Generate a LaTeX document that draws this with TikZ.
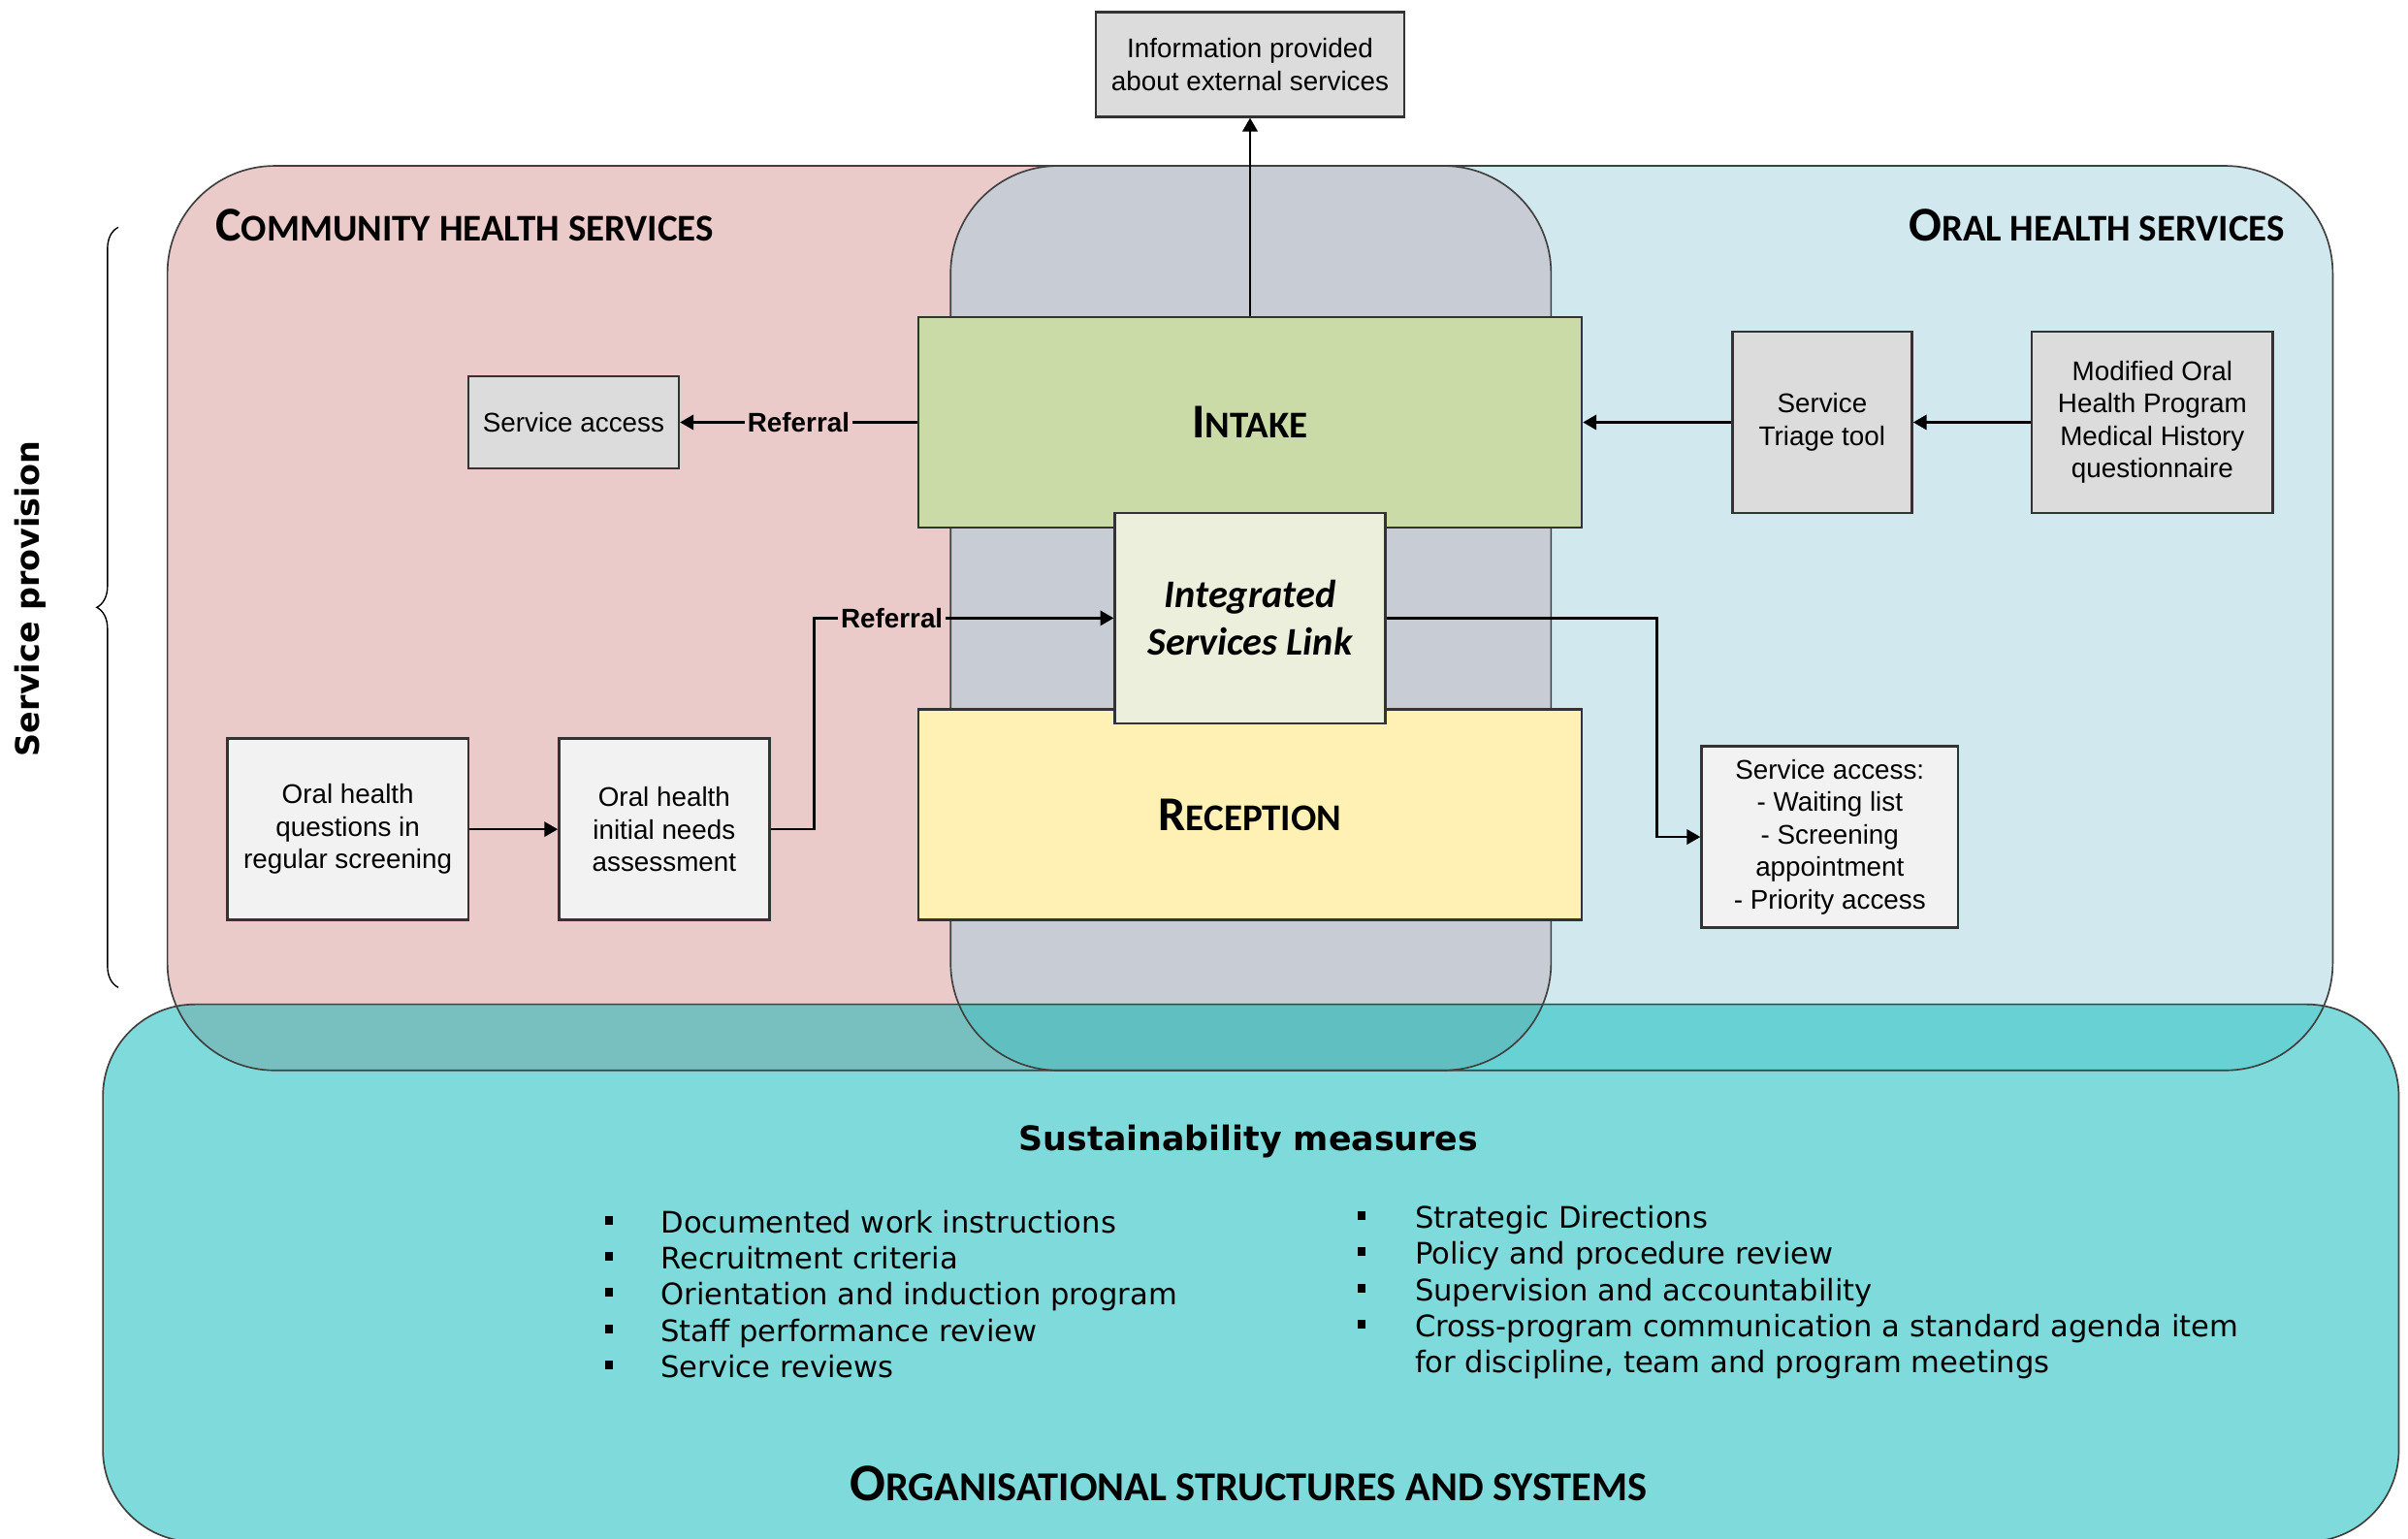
\documentclass[tikz,border=0pt]{standalone}
\usepackage{fontspec}
\setmainfont{Liberation Sans}
\newfontfamily\calfont{Carlito}
\newfontfamily\verfont{DejaVu Sans}
\usetikzlibrary{arrows.meta, positioning, decorations.pathreplacing}

\definecolor{chspink}{HTML}{EBCACA}
\definecolor{ohsblue}{HTML}{D1E9EE}
\definecolor{linkgray}{HTML}{C8CCD4}
\definecolor{orgteal}{HTML}{7FDBDB}
\definecolor{tealpink}{HTML}{78C0BF}
\definecolor{tealblue}{HTML}{68D1D3}
\definecolor{tealgray}{HTML}{60BFC0}
\definecolor{intakegreen}{HTML}{CADBA7}
\definecolor{islgreen}{HTML}{EBEFDC}
\definecolor{recyellow}{HTML}{FFF0B3}
\definecolor{boxgray}{HTML}{DCDCDC}
\definecolor{boxlight}{HTML}{F2F2F2}

\newcommand{\capsc}[3][18]{{\fontsize{#1}{20}\selectfont #2}{\fontsize{\fpeval{#1*14/18}}{20}\selectfont #3}}
\newcommand{\sqbul}{\raisebox{0.28em}{\rule{2.8pt}{3.2pt}}}

\begin{document}
\begin{tikzpicture}[x=0.02cm, y=-0.02cm,
  box/.style={draw=black!80, line width=0.9pt, align=center, inner sep=0pt,
    font=\fontsize{10}{12}\selectfont},
  graybox/.style={box, fill=boxgray},
  lightbox/.style={box, fill=boxlight},
  bigbox/.style={draw=black!80, line width=0.9pt, inner sep=0pt,
    minimum width=8.64cm, minimum height=2.74cm, font=\calfont\bfseries},
  region/.style={draw=black!75, line width=0.6pt, rounded corners=1.4cm},
  arr/.style={line width=0.9pt, -{Triangle[length=5pt,width=5.5pt]}},
  lbl/.style={font=\bfseries\fontsize{10}{12}\selectfont, inner sep=1pt, fill=chspink},
  title/.style={font=\calfont\bfseries, inner sep=0pt},
  measures/.style={font=\verfont\fontsize{11}{13.4}\selectfont, inner sep=0pt, anchor=north west}]
\useasboundingbox (0,0) rectangle (1568,1002);

\fill[chspink, rounded corners=1.4cm] (109,108) rectangle (1010,697);
\fill[ohsblue, rounded corners=1.4cm] (619,108) rectangle (1519,697);
\begin{scope}
\clip[rounded corners=1.4cm] (109,108) rectangle (1010,697);
\fill[linkgray, rounded corners=1.4cm] (619,108) rectangle (1519,697);
\end{scope}
\fill[orgteal, rounded corners=1.2cm] (67,654) rectangle (1562,1004);
\begin{scope}
\clip[rounded corners=1.2cm] (67,654) rectangle (1562,1004);
\fill[tealpink, rounded corners=1.4cm] (109,108) rectangle (1010,697);
\fill[tealblue, rounded corners=1.4cm] (619,108) rectangle (1519,697);
\clip[rounded corners=1.4cm] (109,108) rectangle (1010,697);
\fill[tealgray, rounded corners=1.4cm] (619,108) rectangle (1519,697);
\end{scope}
\draw[region] (109,108) rectangle (1010,697);
\draw[region] (619,108) rectangle (1519,697);
\draw[region, rounded corners=1.2cm] (67,654) rectangle (1562,1004);

\draw[decorate, decoration={brace, amplitude=0.28cm}, line width=0.5pt] (77,643) -- (77,148);
\node[font=\verfont\bfseries\fontsize{12}{14}\selectfont, rotate=90] (provision) at (20,390) {Service provision};

\node[title, anchor=base west] (chs) at (140,157) {\capsc{C}{OMMUNITY HEALTH SERVICES}};
\node[title, anchor=base east] (ohs) at (1488,157) {\capsc{O}{RAL HEALTH SERVICES}};

\node[graybox, minimum width=4.02cm, minimum height=1.36cm] (info) at (814,42) {Information provided\\about external services};
\node[bigbox, fill=intakegreen] (intake) at (814,275) {\capsc{I}{NTAKE}};
\node[bigbox, fill=recyellow] (reception) at (814,530.5) {\capsc{R}{ECEPTION}};
\node[box, fill=islgreen, minimum width=3.52cm, minimum height=2.74cm,
  font=\calfont\bfseries\itshape\fontsize{14.5}{17.6}\selectfont] (isl) at (814,402.5) {Integrated\\Services Link};

\node[graybox, minimum width=2.74cm, minimum height=1.2cm] (svcaccess) at (373.5,275) {Service access};
\node[graybox, minimum width=2.34cm, minimum height=2.36cm] (triage) at (1186.5,275) {Service\\Triage tool};
\node[graybox, minimum width=3.14cm, minimum height=2.36cm] (mohp) at (1401.5,275) {Modified Oral\\Health Program\\Medical History\\questionnaire};
\node[lightbox, minimum width=3.14cm, minimum height=2.36cm] (ohq) at (226.5,540) {Oral health\\questions in\\regular screening};
\node[lightbox, minimum width=2.74cm, minimum height=2.36cm] (ohneeds) at (432.5,540) {Oral health\\initial needs\\assessment};
\node[lightbox, minimum width=3.34cm, minimum height=2.36cm] (svcaccess2) at (1191.5,545) {Service access:\\- Waiting list\\- Screening\\appointment\\- Priority access};

\coordinate (kink) at (530,402.5);
\draw[arr] (intake.west) -- node[lbl] {Referral} (svcaccess.east);
\draw[arr] (mohp.west) -- (triage.east);
\draw[arr] (triage.west) -- (intake.east);
\draw[arr] (intake.north) -- (info.south);
\draw[arr] (ohq.east) -- (ohneeds.west);
\draw[arr] (ohneeds.east) -| (kink) -- node[lbl, pos=0.26] {Referral} (isl.west);
\draw[arr] (isl.east) -- ++(176,0) |- (svcaccess2.west);

\node[font=\verfont\bfseries\fontsize{12.5}{14}\selectfont, inner sep=0pt] (sustain) at (813,743) {Sustainability measures};
\node[measures] (leftlist) at (394,786) {\begin{tabular}{@{}p{0.72cm}@{}l@{}}
\sqbul & Documented work instructions\\
\sqbul & Recruitment criteria\\
\sqbul & Orientation and induction program\\
\sqbul & Staff performance review\\
\sqbul & Service reviews
\end{tabular}};
\node[measures] (rightlist) at (884,783) {\begin{tabular}{@{}p{0.74cm}@{}l@{}}
\sqbul & Strategic Directions\\
\sqbul & Policy and procedure review\\
\sqbul & Supervision and accountability\\
\sqbul & Cross-program communication a standard agenda item\\
 & for discipline, team and program meetings
\end{tabular}};
\node[title] (org) at (813,966) {\capsc[19.6]{O}{RGANISATIONAL STRUCTURES AND SYSTEMS}};
\end{tikzpicture}
\end{document}
